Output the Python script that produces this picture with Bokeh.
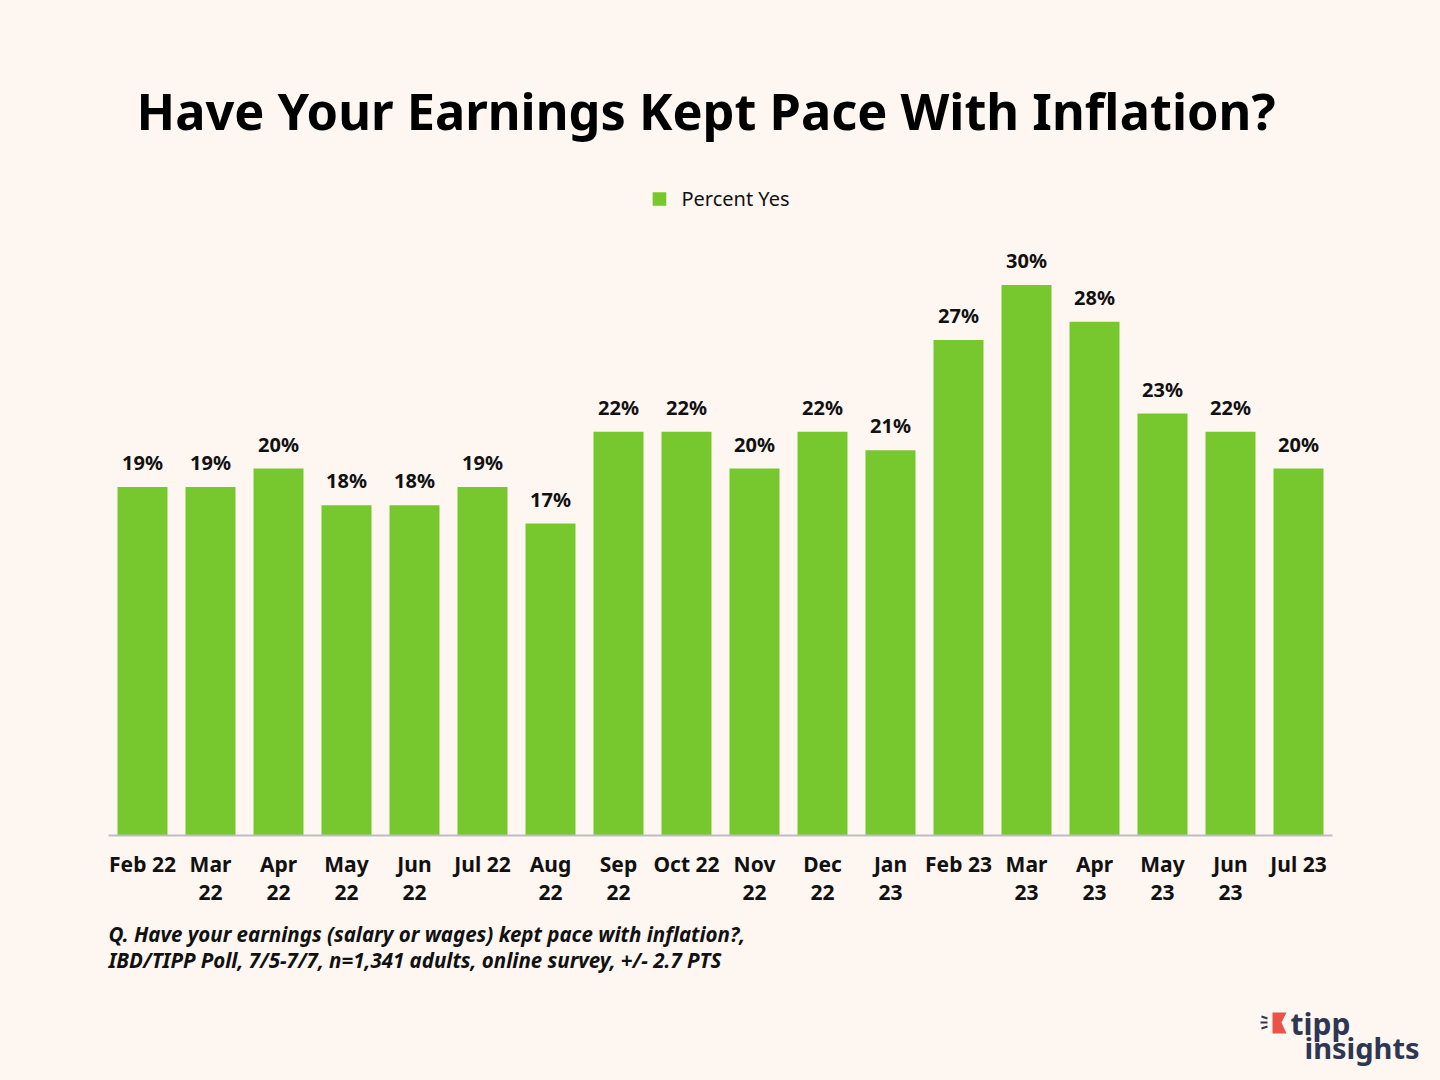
from bokeh.plotting import figure
from bokeh.models import (ColumnDataSource, Range1d, LabelSet, Label, Legend, LegendItem,
                          LinearAxis, FixedTicker)
from bokeh.layouts import column
from bokeh.core.properties import value
from bokeh.embed import file_html
from bokeh.resources import INLINE

# data
months = ["Feb 22", "Mar 22", "Apr 22", "May 22", "Jun 22", "Jul 22", "Aug 22", "Sep 22", "Oct 22",
          "Nov 22", "Dec 22", "Jan 23", "Feb 23", "Mar 23", "Apr 23", "May 23", "Jun 23", "Jul 23"]
tick_line1 = ["Feb 22", "Mar", "Apr", "May", "Jun", "Jul 22", "Aug", "Sep", "Oct 22",
              "Nov", "Dec", "Jan", "Feb 23", "Mar", "Apr", "May", "Jun", "Jul 23"]
tick_line2 = ["", "22", "22", "22", "22", "", "22", "22", "",
              "22", "22", "23", "", "23", "23", "23", "23", ""]
percent_yes = [19, 19, 20, 18, 18, 19, 17, 22, 22, 20, 22, 21, 27, 30, 28, 23, 22, 20]

BG = "#fdf6f1"
GREEN = "#76c82e"
FONT = "Noto Sans"
TXT = "#111111"
NAVY = "#2f3651"

pos = list(range(len(months)))
source = ColumnDataSource(data={
    'x': pos,
    'month': months,
    'value': percent_yes,
    'label': [str(v) + "%" for v in percent_yes],
})

W = 1424
H_MAIN, H_FOOT = 914, 166

p = figure(width=W, height=H_MAIN, toolbar_location=None, tools="", x_axis_location=None,
           output_backend="svg", min_border_left=108, min_border_right=92,
           min_border_top=180, min_border_bottom=79)
p.x_range = Range1d(-0.5, len(months) - 0.5)
p.y_range = Range1d(0, 35.7)
p.background_fill_color = BG
p.border_fill_color = BG
p.outline_line_color = None
p.grid.visible = False
p.yaxis.visible = False

p.title.text = "Have Your Earnings Kept Pace With Inflation?"
p.title.align = "left"
p.title.offset = 28
p.title.text_font = FONT
p.title.text_font_style = "bold"
p.title.text_font_size = "50.5px"
p.title.text_color = "#000000"
p.title.standoff = 72

bars = p.vbar(x='x', top='value', width=0.735, fill_color=GREEN, line_color=None, source=source)

labels = LabelSet(x='x', y='value', text='label', source=source, text_align="center",
                  text_baseline="bottom", y_offset=11, text_font=value(FONT), text_font_style="bold",
                  text_font_size="20px", text_color=TXT)
p.add_layout(labels)

def month_axis(lines, standoff, line_color):
    ax = LinearAxis(ticker=FixedTicker(ticks=pos), axis_line_color=line_color, axis_line_width=2,
                    major_tick_line_color=None, minor_tick_line_color=None,
                    major_label_standoff=standoff, major_label_text_font=FONT,
                    major_label_text_font_style="bold", major_label_text_font_size="21px",
                    major_label_text_color=TXT)
    ax.major_label_overrides = dict(zip(pos, lines))
    return ax

p.add_layout(month_axis(tick_line1, 8, "#bdbdbd"), "below")
p.add_layout(month_axis(tick_line2, -2, None), "below")

legend = Legend(items=[LegendItem(label="Percent Yes", renderers=[bars])], location="top_center",
                orientation="horizontal", background_fill_alpha=0, border_line_color=None,
                label_text_font=FONT, label_text_font_size="20px", label_text_color=TXT,
                glyph_width=17, glyph_height=17, margin=5, padding=13, label_standoff=14)
p.add_layout(legend)

# footnote and logo strip below the chart (pixel coordinates, measured from its top)
foot = figure(width=W, height=H_FOOT, toolbar_location=None, tools="", output_backend="svg",
              x_axis_location=None, y_axis_location=None, min_border=0,
              min_border_left=0, min_border_right=0, min_border_top=0, min_border_bottom=0,
              x_range=Range1d(0, W), y_range=Range1d(0, H_FOOT))
if "frame_align" in foot.properties():
    foot.frame_align = False
    p.frame_align = False
foot.background_fill_color = BG
foot.border_fill_color = BG
foot.outline_line_color = None
foot.grid.visible = False

def note(x, y, text, size="20.5px", style="bold italic", color=TXT):
    return Label(x=x, y=H_FOOT - y, text=text, text_baseline="middle",
                 text_font=FONT, text_font_style=style, text_font_size=size, text_color=color)

foot.add_layout(note(108, 19, "Q. Have your earnings (salary or wages) kept pace with inflation?,"))
foot.add_layout(note(108, 45, "IBD/TIPP Poll, 7/5-7/7, n=1,341 adults, online survey, +/- 2.7 PTS"))

# tipp insights logo
foot.patch([1272, 1286, 1281, 1286, 1272], [H_FOOT - y for y in [98, 98, 108, 119, 119]],
           fill_color="#e8534a", line_color=None)
foot.segment(x0=[1261, 1260, 1261], y0=[H_FOOT - y for y in [102, 108, 114]],
             x1=[1267, 1267, 1267], y1=[H_FOOT - y for y in [104, 108, 112]],
             line_color=NAVY, line_width=2)
foot.add_layout(note(1290, 109, "tipp", "30px", "bold", NAVY))
foot.add_layout(note(1304, 133, "insights", "29px", "bold", NAVY))

page = column(p, foot, spacing=0)

html = file_html(page, INLINE)
html = html.replace("<head>", "<head><style>body{background:%s;}</style>" % BG, 1)
open("out.html", "w").write(html)
